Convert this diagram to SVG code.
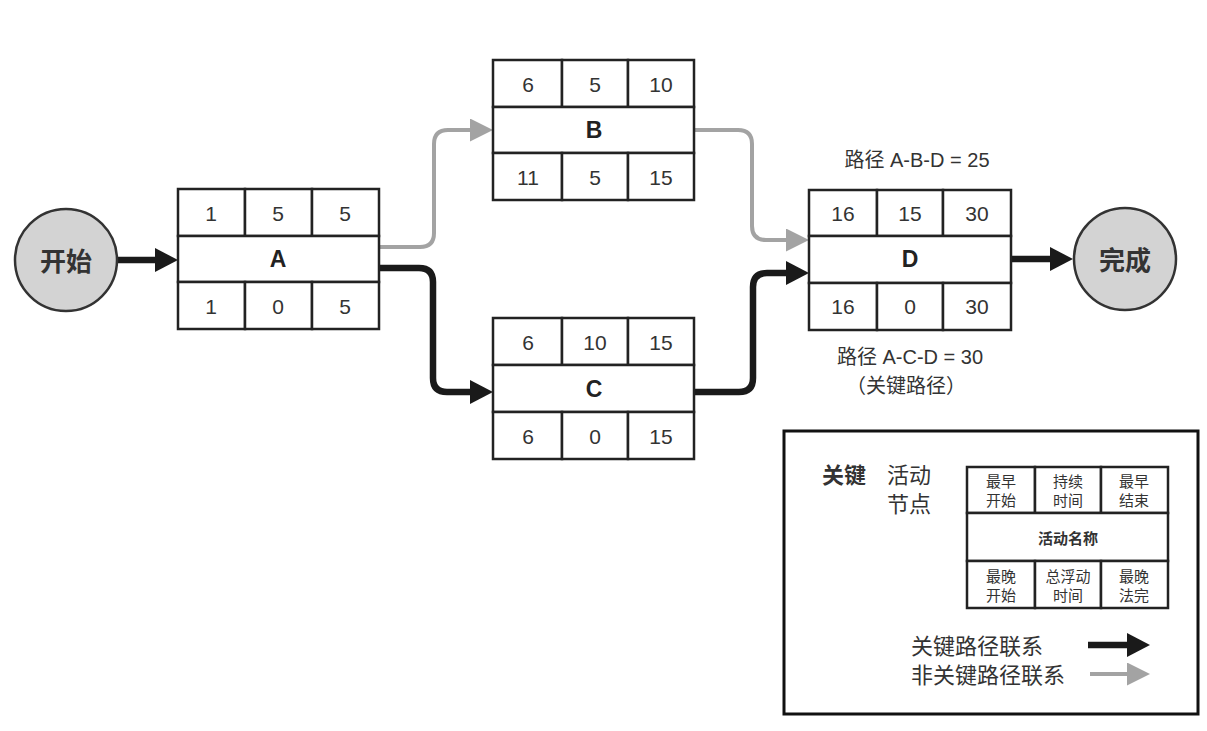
<svg xmlns="http://www.w3.org/2000/svg" width="1207" height="731" viewBox="0 0 1207 731">
<style>
.cell{fill:#fff;stroke:#222;stroke-width:2.5}
.num{font-family:"Liberation Sans","Noto Sans CJK SC",sans-serif;font-size:21px;fill:#333;text-anchor:middle;dominant-baseline:central}
.nm{font-family:"Liberation Sans","Noto Sans CJK SC",sans-serif;font-size:23px;font-weight:bold;fill:#222;text-anchor:middle;dominant-baseline:central}
.circ{fill:#d3d3d3;stroke:#333;stroke-width:2.5}
.ctext{font-family:"Noto Sans CJK SC","Liberation Sans",sans-serif;font-size:26px;font-weight:bold;fill:#333;text-anchor:middle;dominant-baseline:central}
.crit{fill:none;stroke:#1a1a1a;stroke-width:6.5}
.non{fill:none;stroke:#a3a3a3;stroke-width:4}
.lbl{font-family:"Liberation Sans","Noto Sans CJK SC",sans-serif;font-size:20px;fill:#333;text-anchor:middle;dominant-baseline:central}
.lg{font-family:"Noto Sans CJK SC","Liberation Sans",sans-serif;font-size:22px;fill:#333;dominant-baseline:central}
.sm{font-family:"Noto Sans CJK SC","Liberation Sans",sans-serif;font-size:15px;fill:#333;text-anchor:middle;dominant-baseline:central}
</style>
<defs>
<marker id="ab" markerUnits="userSpaceOnUse" markerWidth="23" markerHeight="24" refX="8" refY="12" orient="auto"><path d="M0,0 L23,12 L0,24 z" fill="#1a1a1a"/></marker>
<marker id="ag" markerUnits="userSpaceOnUse" markerWidth="23" markerHeight="23" refX="8" refY="11.5" orient="auto"><path d="M0,0 L23,11.5 L0,23 z" fill="#a3a3a3"/></marker>
</defs>
<rect width="1207" height="731" fill="#fff"/>

<g id="connectors">
<path class="crit" d="M117,260 H163" marker-end="url(#ab)"/>
<path class="non" d="M379,247 H420 Q434,247 434,233 V144 Q434,130 448,130 H478" marker-end="url(#ag)"/>
<path class="crit" d="M379,268 H419 Q433,268 433,282 V378 Q433,392 447,392 H478" marker-end="url(#ab)"/>
<path class="non" d="M694,130 H738 Q752,130 752,144 V226 Q752,240 766,240 H794" marker-end="url(#ag)"/>
<path class="crit" d="M694,392 H739 Q753,392 753,378 V287 Q753,273 767,273 H794" marker-end="url(#ab)"/>
<path class="crit" d="M1011,259 H1058" marker-end="url(#ab)"/>
</g>

<g id="start">
<circle class="circ" cx="66" cy="260" r="51"/>
<text class="ctext" x="66" y="259">开始</text>
</g>

<g id="finish">
<circle class="circ" cx="1125" cy="259" r="51"/>
<text class="ctext" x="1125" y="258">完成</text>
</g>

<g id="nodeA">
<rect class="cell" x="178" y="189" width="67" height="47"/>
<rect class="cell" x="245" y="189" width="67" height="47"/>
<rect class="cell" x="312" y="189" width="67" height="47"/>
<rect class="cell" x="178" y="236" width="201" height="46"/>
<rect class="cell" x="178" y="282" width="67" height="47"/>
<rect class="cell" x="245" y="282" width="67" height="47"/>
<rect class="cell" x="312" y="282" width="67" height="47"/>
<text class="num" x="211" y="213">1</text><text class="num" x="278" y="213">5</text><text class="num" x="345" y="213">5</text>
<text class="nm" x="278" y="259">A</text>
<text class="num" x="211" y="306">1</text><text class="num" x="278" y="306">0</text><text class="num" x="345" y="306">5</text>
</g>

<g id="nodeB">
<rect class="cell" x="493" y="60" width="69" height="47"/>
<rect class="cell" x="562" y="60" width="66" height="47"/>
<rect class="cell" x="628" y="60" width="66" height="47"/>
<rect class="cell" x="493" y="107" width="201" height="46"/>
<rect class="cell" x="493" y="153" width="69" height="47"/>
<rect class="cell" x="562" y="153" width="66" height="47"/>
<rect class="cell" x="628" y="153" width="66" height="47"/>
<text class="num" x="528" y="84">6</text><text class="num" x="595" y="84">5</text><text class="num" x="661" y="84">10</text>
<text class="nm" x="594" y="130">B</text>
<text class="num" x="528" y="177">11</text><text class="num" x="595" y="177">5</text><text class="num" x="661" y="177">15</text>
</g>

<g id="nodeC">
<rect class="cell" x="493" y="318" width="69" height="47"/>
<rect class="cell" x="562" y="318" width="66" height="47"/>
<rect class="cell" x="628" y="318" width="66" height="47"/>
<rect class="cell" x="493" y="365" width="201" height="47"/>
<rect class="cell" x="493" y="412" width="69" height="47"/>
<rect class="cell" x="562" y="412" width="66" height="47"/>
<rect class="cell" x="628" y="412" width="66" height="47"/>
<text class="num" x="528" y="342">6</text><text class="num" x="595" y="342">10</text><text class="num" x="661" y="342">15</text>
<text class="nm" x="594" y="389">C</text>
<text class="num" x="528" y="436">6</text><text class="num" x="595" y="436">0</text><text class="num" x="661" y="436">15</text>
</g>

<g id="nodeD">
<rect class="cell" x="809" y="190" width="68" height="46"/>
<rect class="cell" x="877" y="190" width="66" height="46"/>
<rect class="cell" x="943" y="190" width="68" height="46"/>
<rect class="cell" x="809" y="236" width="202" height="47"/>
<rect class="cell" x="809" y="283" width="68" height="47"/>
<rect class="cell" x="877" y="283" width="66" height="47"/>
<rect class="cell" x="943" y="283" width="68" height="47"/>
<text class="num" x="843" y="213">16</text><text class="num" x="910" y="213">15</text><text class="num" x="977" y="213">30</text>
<text class="nm" x="910" y="259">D</text>
<text class="num" x="843" y="306">16</text><text class="num" x="910" y="306">0</text><text class="num" x="977" y="306">30</text>
</g>

<g id="labels">
<text class="lbl" x="917" y="160">路径 A-B-D = 25</text>
<text class="lbl" x="910" y="357">路径 A-C-D = 30</text>
<text class="lbl" x="906" y="386">（关键路径）</text>
</g>

<g id="legend">
<rect x="784" y="431" width="414" height="283" fill="#fff" stroke="#111" stroke-width="3"/>
<text class="lg" x="822" y="473" font-weight="bold">关键</text>
<text class="lg" x="887" y="473">活动</text>
<text class="lg" x="887" y="502">节点</text>
<rect class="cell" x="967" y="467" width="68" height="46"/>
<rect class="cell" x="1035" y="467" width="66" height="46"/>
<rect class="cell" x="1101" y="467" width="67" height="46"/>
<rect class="cell" x="967" y="513" width="201" height="48"/>
<rect class="cell" x="967" y="561" width="68" height="47"/>
<rect class="cell" x="1035" y="561" width="66" height="47"/>
<rect class="cell" x="1101" y="561" width="67" height="47"/>
<text class="sm" x="1001" y="480">最早</text><text class="sm" x="1001" y="499">开始</text>
<text class="sm" x="1068" y="480">持续</text><text class="sm" x="1068" y="499">时间</text>
<text class="sm" x="1134" y="480">最早</text><text class="sm" x="1134" y="499">结束</text>
<text class="sm" x="1068" y="537" font-weight="bold" font-size="16">活动名称</text>
<text class="sm" x="1001" y="575">最晚</text><text class="sm" x="1001" y="594">开始</text>
<text class="sm" x="1068" y="575">总浮动</text><text class="sm" x="1068" y="594">时间</text>
<text class="sm" x="1134" y="575">最晚</text><text class="sm" x="1134" y="594">法完</text>
<text class="lg" x="911" y="644">关键路径联系</text>
<text class="lg" x="911" y="673">非关键路径联系</text>
<path class="crit" d="M1088,645 H1135" marker-end="url(#ab)"/>
<path class="non" d="M1090,674 H1135" marker-end="url(#ag)"/>
</g>
</svg>
